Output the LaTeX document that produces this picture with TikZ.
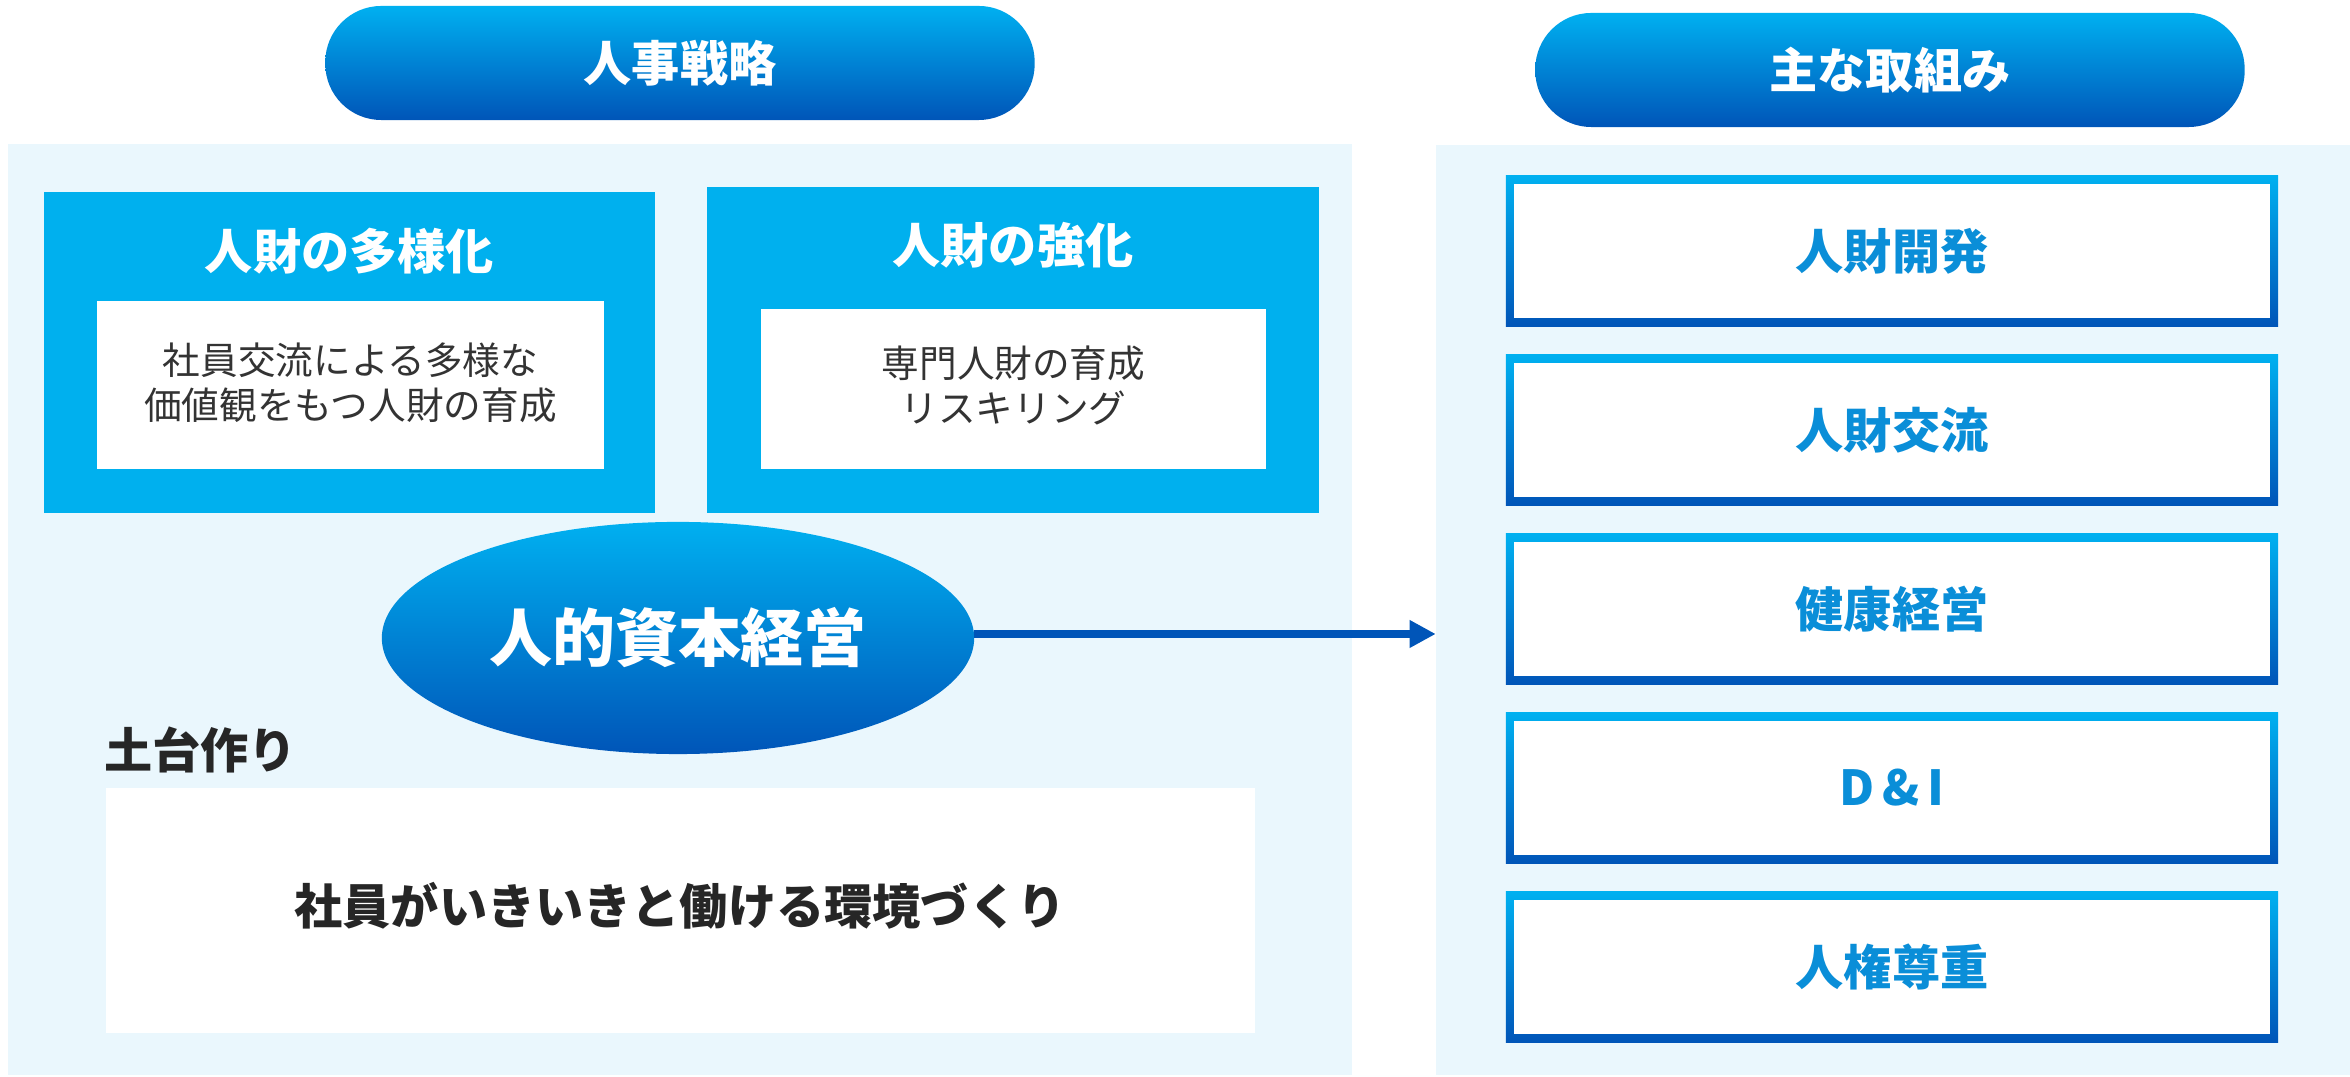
\documentclass[tikz,border=0pt]{standalone}
\usepackage{fontspec}
\setmainfont{Noto Sans CJK JP}
\usetikzlibrary{arrows.meta,shapes.geometric}
\definecolor{cyanT}{HTML}{00B0F0}
\definecolor{blueB}{HTML}{0055B8}
\definecolor{boxC}{HTML}{00B0EE}
\definecolor{panelC}{HTML}{EAF7FD}
\definecolor{txtD}{HTML}{262626}
\definecolor{txtM}{HTML}{333333}
\definecolor{itemT}{HTML}{0A8ED8}
\begin{document}
\begin{tikzpicture}[x=0.01cm,y=-0.01cm,
  every node/.style={inner sep=0pt, outer sep=0pt},
  hdr/.style={rectangle, rounded corners=0.56cm, top color=cyanT, bottom color=blueB,
    minimum width=7.09cm, minimum height=1.14cm, text=white,
    font=\fontsize{13.7}{16}\selectfont\bfseries},
  panel/.style={rectangle, fill=panelC},
  bluebox/.style={rectangle, fill=boxC, minimum width=6.11cm},
  whitebox/.style={rectangle, fill=white},
  boxtitle/.style={text=white, font=\fontsize{13.7}{16}\selectfont\bfseries},
  boxtext/.style={text=txtM, align=center, font=\fontsize{10.7}{12.8}\selectfont},
  itemouter/.style={rectangle, top color=cyanT, bottom color=blueB, minimum width=7.72cm, minimum height=1.50cm},
  iteminner/.style={rectangle, fill=white, minimum width=7.56cm, minimum height=1.34cm,
    text=itemT, font=\fontsize{13.7}{16}\selectfont\bfseries},
  conn/.style={line width=0.085cm, draw=blueB, fill=blueB, -{Triangle[length=0.26cm,width=0.26cm]}}
]
\useasboundingbox (0,0) rectangle (2350,1077);
% panels
\node[panel, minimum width=13.44cm, minimum height=9.31cm] (lp) at (680,609.5) {};
\node[panel, minimum width=9.14cm, minimum height=9.30cm] (rp) at (1893,610) {};
% headers
\node[hdr] (h1) at (680,63) {人事戦略};
\node[hdr] (h2) at (1890,70) {主な取組み};
% left boxes
\node[bluebox, minimum height=3.21cm] (b1) at (349.5,352.5) {};
\node[whitebox, minimum width=5.07cm, minimum height=1.68cm] (w1) at (350.5,385) {};
\node[boxtitle] (t1) at (349.5,251) {人財の多様化};
\node[boxtext] (s1) at (350.5,383) {社員交流による多様な\\価値観をもつ人財の育成};
\node[bluebox, minimum height=3.26cm] (b2) at (1013,350) {};
\node[whitebox, minimum width=5.05cm, minimum height=1.60cm] (w2) at (1013.5,389) {};
\node[boxtitle] (t2) at (1013,245) {人財の強化};
\node[boxtext] (s2) at (1013.5,385) {専門人財の育成\\リスキリング};
% ellipse
\node[ellipse, minimum width=5.92cm, minimum height=2.32cm, top color=cyanT, bottom color=blueB,
  text=white, font=\fontsize{17.9}{20}\selectfont\bfseries] (ell) at (678,638) {人的資本経営};
\draw[conn] ([yshift=0.04cm]ell.east) -- ([yshift=0.04cm]ell.east -| rp.west);
% foundation
\node[anchor=west, text=txtD, font=\fontsize{13.7}{16}\selectfont\bfseries] (fl) at (104,750) {土台作り};
\node[whitebox, minimum width=11.49cm, minimum height=2.45cm] (fb) at (680.5,910.5) {};
\node[text=txtD, font=\fontsize{13.7}{16}\selectfont\bfseries] (ft) at (680,906) {社員がいきいきと働ける環境づくり};
% right items
\foreach \i/\yy/\txt in {1/251/人財開発, 2/430/人財交流, 3/609/健康経営, 4/788/{D\,\&\,I}, 5/967/人権尊重}{
  \node[itemouter] (io\i) at (1892,\yy) {};
  \node[iteminner] (it\i) at (io\i) {\txt};
}
\end{tikzpicture}
\end{document}
